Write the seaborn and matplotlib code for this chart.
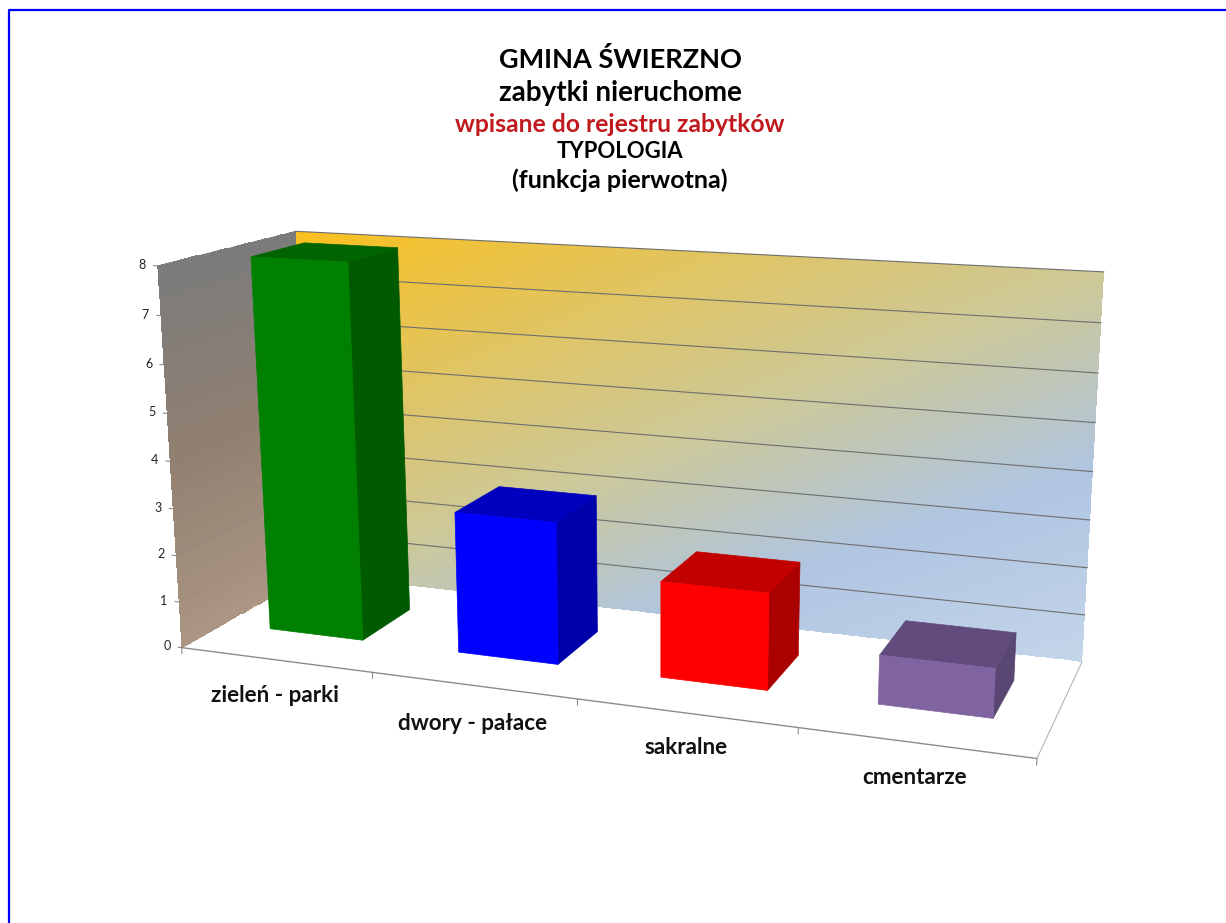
import numpy as np
import pandas as pd
import seaborn as sns
import matplotlib.pyplot as plt
from matplotlib.patches import Rectangle
from matplotlib.transforms import Affine2D, Transform

categories = ['zieleń - parki', 'dwory - pałace', 'sakralne', 'cmentarze']
values = [8, 3, 2, 1]
value_ticks = [0, 1, 2, 3, 4, 5, 6, 7, 8]

front_colors = ['#008000', '#0000ff', '#ff0000', '#8064a2']
side_colors = ['#005a00', '#0000aa', '#aa0000', '#594673']
top_colors = ['#006400', '#0000be', '#c30000', '#604b7c']

title_lines = ['GMINA ŚWIERZNO', 'zabytki nieruchome', 'wpisane do rejestru zabytków',
               'TYPOLOGIA', '(funkcja pierwotna)']
title_y = [59, 93, 124, 152, 180]
title_sizes = [19.5, 20, 17.8, 15.9, 18]
title_colors = ['black', 'black', '#c01a1e', 'black', 'black']

label_x = [275, 473, 686, 915]
label_y = [695, 723, 747, 778]

W, H = 1226, 923
X0, X1 = -0.5, 3.5   # category axis ends
Z0, Z1 = 0.31, 0.71  # depth of the bars, 0 = front edge, 1 = back wall

# camera is fitted on the corners of the chart box (x, value, depth) -> pixel
calib = [((X0, 0, 0), (181, 647)), ((X1, 0, 0), (1037, 759)),
         ((X1, 0, 1), (1082, 661)), ((X0, 0, 1), (312, 575)),
         ((X0, 8, 0), (158, 266)), ((X0, 8, 1), (295, 231)),
         ((X1, 8, 1), (1104, 272))]
rows = []
for (x, y, z), (u, v) in calib:
    u, v = u / 1000, v / 1000
    rows.append([x, y, z, 1, 0, 0, 0, 0, -u * x, -u * y, -u * z, -u])
    rows.append([0, 0, 0, 0, x, y, z, 1, -v * x, -v * y, -v * z, -v])
P = np.linalg.svd(np.array(rows))[2][-1].reshape(3, 4)

to_display = Affine2D().scale(1000, -1000).translate(0, H)
pixel = Affine2D().scale(1, -1).translate(0, H)


class Plane(Transform):
    # 2d coordinates on a plane of the 3d box, axis is the one that stays fixed
    input_dims = 2
    output_dims = 2

    def __init__(self, axis, level):
        super().__init__()
        self.axis = axis
        self.level = level

    def transform_non_affine(self, values):
        a, b = np.asarray(values).T
        c = np.full_like(a, self.level, dtype=float)
        if self.axis == 'z':
            world = [a, b, c]
        elif self.axis == 'x':
            world = [c, b, a]
        else:
            world = [a, c, b]
        p = P @ np.vstack(world + [np.ones_like(a)])
        return np.column_stack([p[0] / p[2], p[1] / p[2]])


def on(axis, level):
    return Plane(axis, level) + to_display


def blend(t, stops, colors):
    return np.stack([np.interp(t, stops, np.array(colors)[:, i]) for i in range(3)], axis=-1) / 255


sns.set_theme(style='white')
plt.rcParams['font.family'] = ['Lato', 'DejaVu Sans']

fig = plt.figure(figsize=(W / 100, H / 100), dpi=100)
ax = fig.add_axes([0, 0, 1, 1])

df = pd.DataFrame({'typ': categories, 'liczba': values})
sns.barplot(data=df, x='typ', y='liczba', hue='typ', palette=front_colors, width=0.5,
            saturation=1, legend=False, ax=ax)

# back wall, diagonal gradient
xs = np.linspace(X0, X1, 241)
ys = np.linspace(0, 8, 121)
xc, yc = np.meshgrid((xs[:-1] + xs[1:]) / 2, (ys[:-1] + ys[1:]) / 2)
t = ((xc - X0) / (X1 - X0) + 1 - yc / 8) / 2
back = blend(t, [0, 0.5, 0.75, 1], [(250, 192, 30), (205, 200, 150), (175, 197, 225), (196, 213, 233)])
ax.pcolormesh(xs, ys, back, transform=on('z', 1), zorder=1)

# left wall, gray to brown
zs = np.linspace(0, 1, 41)
zc, yc = np.meshgrid((zs[:-1] + zs[1:]) / 2, (ys[:-1] + ys[1:]) / 2)
left = blend(1 - yc / 8, [0, 0.5, 1], [(123, 123, 123), (145, 128, 113), (172, 150, 132)])
ax.pcolormesh(zs, ys, left, transform=on('x', X0), zorder=1)

# grid lines
for v in value_ticks[1:]:
    ax.plot([X0, X1], [v, v], color='#6e6e6e', lw=0.8, transform=on('z', 1), zorder=2)
    ax.plot([0, 1], [v, v], color='#8a8178', lw=0.5, alpha=0.5, transform=on('x', X0), zorder=2)

# floor edges and ticks
ax.plot([X0, X1], [0, 0], color='#8c8c8c', lw=1, transform=on('z', 0), zorder=2)
ax.plot([0, 1], [0, 0], color='#b4b4b4', lw=0.8, transform=on('x', X1), zorder=2)
for x in np.arange(X0, X1 + 1):
    ax.plot([x, x], [0, -0.13], color='#8c8c8c', lw=0.8, transform=on('z', 0), zorder=2)
for v in value_ticks:
    ax.plot([X0, X0 - 0.02], [v, v], color='#8c8c8c', lw=0.8, transform=on('z', 0), zorder=2)
    ax.text(X0 - 0.06, v, str(v), ha='right', va='center', fontsize=9, color='#222222',
            transform=on('z', 0))

# bars: seaborn gives the front faces, the depth is added from the same rectangles
for i, bar in enumerate(ax.patches[:len(values)]):
    x, w, h = bar.get_x(), bar.get_width(), bar.get_height()
    bar.set_transform(on('z', Z0))
    bar.set_zorder(5)
    bar.set_edgecolor(front_colors[i])
    bar.set_linewidth(0.5)
    ax.add_patch(Rectangle((Z0, 0), Z1 - Z0, h, fc=side_colors[i], ec=side_colors[i], lw=0.5,
                           transform=on('x', x + w), zorder=4))
    ax.add_patch(Rectangle((x, Z0), w, Z1 - Z0, fc=top_colors[i], ec=top_colors[i], lw=0.5,
                           transform=on('y', h), zorder=4))

for txt, y, size, col in zip(title_lines, title_y, title_sizes, title_colors):
    ax.text(620, y, txt, ha='center', va='center', fontsize=size, fontweight='bold', color=col,
            transform=pixel)
for txt, x, y in zip(categories, label_x, label_y):
    ax.text(x, y, txt, ha='center', va='center', fontsize=16.2, fontweight='bold', color='#111111',
            transform=pixel)

# frame of the slide, only top and left are there
ax.plot([8.5, 8.5, W], [H, 10, 10], color='#0000ff', lw=1.6, transform=pixel, zorder=6)

ax.set_xlim(X0, X1)
ax.set_ylim(0, 8)
ax.axis('off')
fig.savefig('out.png', dpi=100, facecolor='white')
